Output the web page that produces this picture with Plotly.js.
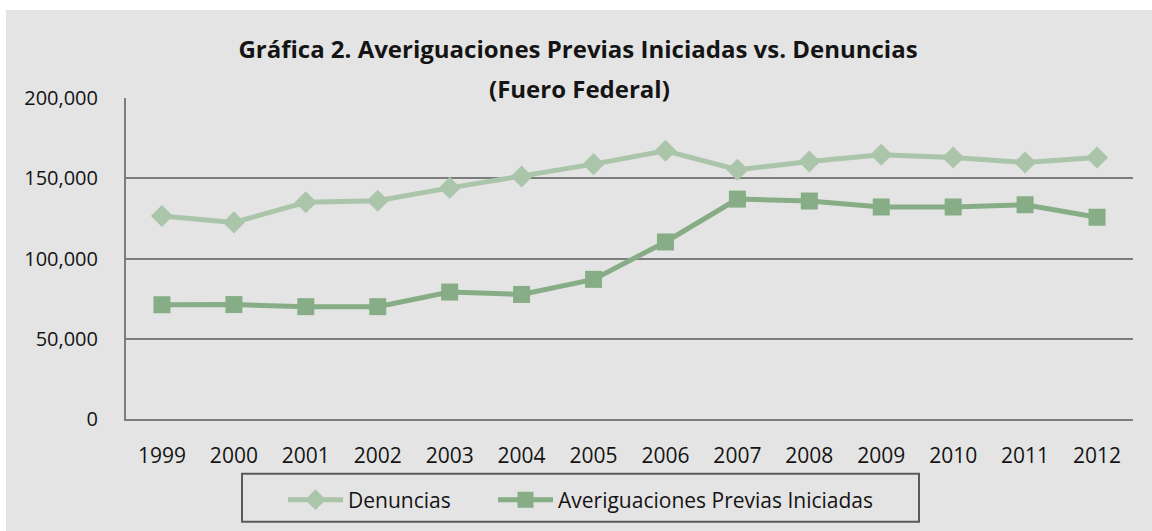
<!DOCTYPE html>
<html>
<head>
<meta charset="utf-8">
<script src="https://cdn.plot.ly/plotly-3.0.1.min.js"></script>
<style>
  html, body { margin: 0; padding: 0; background: #ffffff; width: 1152px; height: 531px; overflow: hidden; }
  #chart { position: absolute; left: 6px; top: 10px; width: 1146px; height: 521px; }
</style>
</head>
<body>
<div id="chart"></div>
<script>
const years = ["1999","2000","2001","2002","2003","2004","2005","2006","2007","2008","2009","2010","2011","2012"];
const denuncias = [126500, 122500, 135000, 136000, 144000, 151100, 158800, 167100, 155300, 160400, 164600, 162900, 159800, 162900];
const averiguaciones = [71200, 71300, 70000, 70000, 79100, 77600, 87000, 110300, 137000, 135800, 132100, 132100, 133500, 125700];
const yTickVals = [0, 50000, 100000, 150000, 200000];
const yTickText = ["0", "50,000", "100,000", "150,000", "200,000"];
const titleLine1 = "Gráfica 2. Averiguaciones Previas Iniciadas vs. Denuncias";
const titleLine2 = "(Fuero Federal)";
const seriesNames = ["Denuncias", "Averiguaciones Previas Iniciadas"];

const FONT = "Open Sans, Noto Sans, sans-serif";
const TXT = "#141414";

const traces = [
  {
    x: years, y: denuncias, name: seriesNames[0], type: "scatter", mode: "lines+markers",
    line: { color: "#abc5aa", width: 5 },
    marker: { symbol: "diamond", size: 17, color: "#abc5aa" },
    legend: "legend"
  },
  {
    x: years, y: averiguaciones, name: seriesNames[1], type: "scatter", mode: "lines+markers",
    line: { color: "#87ad86", width: 5 },
    marker: { symbol: "square", size: 17, color: "#87ad86" },
    legend: "legend2"
  }
];

const legendBase = {
  orientation: "h", xref: "paper", yref: "paper",
  xanchor: "left", y: (410 - 490) / 322, yanchor: "middle",
  bgcolor: "rgba(0,0,0,0)", borderwidth: 0,
  font: { family: FONT, size: 21, color: TXT },
  itemwidth: 55
};

const layout = {
  width: 1146, height: 521,
  paper_bgcolor: "#e4e4e4", plot_bgcolor: "#e4e4e4",
  margin: { l: 120, r: 19, t: 88, b: 111 },
  font: { family: FONT, color: TXT, size: 20 },
  title: {
    text: "<b>" + titleLine1 + "</b>",
    font: { family: FONT, size: 24, color: TXT },
    x: 572 / 1146, xref: "container", xanchor: "center",
    y: 1 - 40 / 521, yref: "container", yanchor: "middle"
  },
  annotations: [{
    text: "<b>" + titleLine2 + "</b>", showarrow: false,
    xref: "paper", yref: "paper", x: (579 - 126) / 1007, y: (410 - 78) / 322,
    xanchor: "center", yanchor: "middle",
    font: { family: FONT, size: 24, color: TXT }
  }],
  xaxis: {
    type: "category", range: [-0.5, 13.5], fixedrange: true,
    showgrid: false, showline: true, linecolor: "#7c7c7c", linewidth: 2,
    ticks: "", ticklabelstandoff: 17,
    tickfont: { family: FONT, size: 21, color: TXT }
  },
  yaxis: {
    range: [0, 200000], fixedrange: true,
    tickvals: yTickVals, ticktext: yTickText,
    showgrid: true, gridcolor: "#7c7c7c", gridwidth: 2,
    showline: true, linecolor: "#7c7c7c", linewidth: 2,
    zeroline: false, ticks: "", ticklabelstandoff: 22,
    tickfont: { family: FONT, size: 20, color: TXT }
  },
  showlegend: true,
  legend: Object.assign({}, legendBase, { x: (283 - 126) / 1007 }),
  legend2: Object.assign({}, legendBase, { x: (493 - 126) / 1007 }),
  shapes: [{
    type: "rect", xref: "paper", yref: "paper",
    x0: (242 - 126) / 1007, x1: (919 - 126) / 1007,
    y0: (410 - 513) / 322, y1: (410 - 465) / 322,
    line: { color: "#5a5a5a", width: 2 }, fillcolor: "rgba(0,0,0,0)", layer: "below"
  }]
};

Plotly.newPlot("chart", traces, layout, { displayModeBar: false, staticPlot: true });
</script>
</body>
</html>
